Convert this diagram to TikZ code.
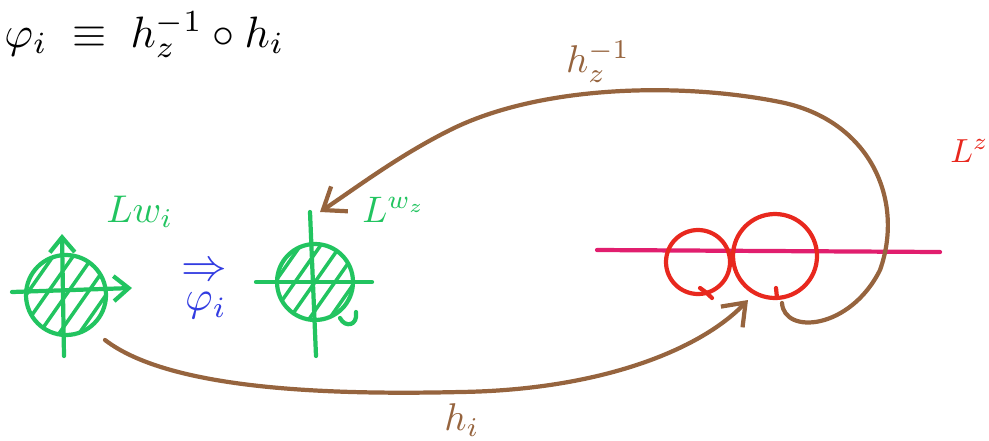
\documentclass[tikz,border=0pt]{standalone}
\usepackage{graphicx}
\usepackage{amsmath,amssymb}
\usetikzlibrary{arrows.meta,calc}
\definecolor{hgreen}{RGB}{34,196,96}
\definecolor{hbrown}{RGB}{150,100,62}
\definecolor{hred}{RGB}{232,40,30}
\definecolor{hmag}{RGB}{225,30,110}
\definecolor{hblue}{RGB}{50,60,225}
\tikzset{
  ink/.style={line width=2.4pt, line cap=round, line join=round},
  gink/.style={ink, draw=hgreen},
  bink/.style={ink, draw=hbrown},
  rink/.style={ink, draw=hred},
  barb/.style={-{Straight Barb[length=4mm,width=6mm,line width=2.4pt]}},
  lbl/.style={inner sep=0pt},
}
\begin{document}
\begin{tikzpicture}[x=0.02cm,y=-0.02cm]
\useasboundingbox (0,0) rectangle (989,440);
% top formula
\node[lbl, anchor=base west] (formula) at (4,47) {\scalebox{2.5}{$\varphi_i \;\equiv\; h_z^{-1}\circ h_i$}};
% named places
\coordinate (w1) at (66,295);
\coordinate (w2) at (315,282);
\coordinate (s1) at (698,262);
\coordinate (s2) at (775,256);
\coordinate (lineL) at (597,250);
\coordinate (lineR) at (940,252);
\coordinate (loopstart) at (782,303);
\coordinate (tipw2) at (320,212);
\coordinate (bstart) at (105,340);
\coordinate (tips) at (748,300);
% green circle 1
\begin{scope}
  \clip (w1) circle (40);
  \foreach \d in {-60,-40,...,60}
    \draw[gink, line width=2pt] ($(w1)+(\d,0)+(-35,50)$) -- ($(w1)+(\d,0)+(35,-50)$);
\end{scope}
\draw[gink] (w1) circle (40);
\draw[gink, -{Straight Barb[length=3mm,width=5mm,line width=2.4pt]}] (12,292) -- (132,288);
\draw[gink, -{Straight Barb[length=3mm,width=5mm,line width=2.4pt]}] (64,356) -- (62,234);
\node[lbl, text=hgreen, anchor=base west] (lw1) at (106,222) {\scalebox{2.2}{$Lw_i$}};
% blue map
\node[lbl, text=hblue] (imp) at (204,272) {\scalebox{2.6}{$\Rightarrow$}};
\node[lbl, text=hblue] (phi) at (206,306) {\scalebox{2.4}{$\varphi_i$}};
% green circle 2
\begin{scope}
  \clip (w2) circle (38);
  \foreach \d in {-60,-40,...,60}
    \draw[gink, line width=2pt] ($(w2)+(\d,0)+(-35,50)$) -- ($(w2)+(\d,0)+(35,-50)$);
\end{scope}
\draw[gink] (w2) circle (38);
\draw[gink] (256,282) -- (372,282);
\draw[gink] (310,212) -- (316,356);
\draw[gink] (340,318) .. controls (345,328) and (358,326) .. (356,312);
\node[lbl, text=hgreen, anchor=base west] (lw2) at (362,222) {\scalebox{2.1}{$L^{w_z}$}};
% red knot picture
\draw[ink, draw=hmag] (lineL) -- (lineR);
\draw[rink] (s1) circle (32);
\draw[rink] (s2) circle (42);
\draw[rink] (700,288) .. controls (706,292) and (710,296) .. (712,298);
\draw[rink] (776,288) -- (777,298);
\node[lbl, text=hred, anchor=base west] (lz) at (950,162) {\scalebox{1.9}{$L^z$}};
% brown arcs
\draw[bink, barb] (loopstart) .. controls (784,335) and (850,330) .. (880,270)
   .. controls (905,200) and (870,120) .. (780,102)
   .. controls (680,82) and (540,85) .. (450,130)
   .. controls (400,155) and (360,185) .. (tipw2);
\node[lbl, text=hbrown] (hz) at (598,62) {\scalebox{2.2}{$h_z^{-1}$}};
\draw[bink, barb] (bstart) .. controls (170,390) and (330,395) .. (460,392)
   .. controls (600,390) and (700,350) .. (tips);
\node[lbl, text=hbrown] (hi) at (462,420) {\scalebox{2.2}{$h_i$}};
\end{tikzpicture}
\end{document}
